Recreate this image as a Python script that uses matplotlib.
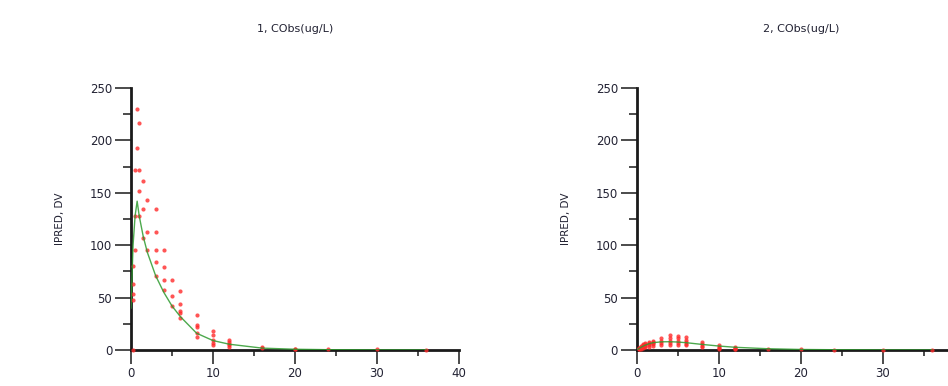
import matplotlib
matplotlib.use("Agg")
import matplotlib.pyplot as plt
from matplotlib.ticker import MultipleLocator, FuncFormatter
import numpy as np

# ---- observed concentrations (DV), grouped by sampling time ----
# panel 1: CObs(ug/L), compartment 1
obs1_time = [0.25, 0.25, 0.25, 0.25, 0.25,
             0.5, 0.5, 0.5,
             0.75, 0.75,
             1, 1, 1, 1,
             1.5, 1.5, 1.5,
             2, 2, 2,
             3, 3, 3, 3, 3,
             4, 4, 4, 4,
             5, 5, 5,
             6, 6, 6, 6, 6,
             8, 8, 8, 8, 8,
             10, 10, 10, 10, 10,
             12, 12, 12, 12, 12,
             16, 16, 20, 20, 24, 30, 36]
obs1_dv = [80, 63, 53, 48, 0,
           172, 128, 95,
           230, 193,
           217, 172, 152, 128,
           161, 135, 107,
           143, 113, 95,
           135, 113, 95, 84, 71,
           95, 79, 67, 57,
           67, 52, 42,
           56, 44, 37, 35, 31,
           33, 24, 22, 16, 12,
           18, 14, 10, 7, 4.5,
           10, 8, 6, 4.5, 2.5,
           2.5, 1.5, 1.2, 0.8, 0.6, 0.5, 0.2]

# panel 2: CObs(ug/L), compartment 2
obs2_time = [0.25, 0.25, 0.25, 0.25,
             0.5, 0.5, 0.5, 0.5,
             0.75, 0.75, 0.75, 0.75, 0.75,
             1, 1, 1, 1, 1,
             1.5, 1.5, 1.5, 1.5, 1.5,
             2, 2, 2, 2, 2,
             3, 3, 3, 3,
             4, 4, 4, 4, 4,
             5, 5, 5, 5, 5,
             6, 6, 6, 6, 6,
             8, 8, 8, 8,
             10, 10, 10, 10,
             12, 12, 12, 12,
             16, 20, 24, 30, 36]
obs2_dv = [0.5, 1, 1.5, 2,
           1, 2, 3, 4,
           2, 3, 4, 5, 6,
           2.5, 4, 5, 6, 7,
           3, 5, 6, 7, 8,
           4, 6, 7, 8, 9,
           11, 9, 7, 5,
           14, 11.5, 9, 6.5, 4.5,
           13, 11, 9, 7, 5,
           12, 10, 8, 6, 5,
           8, 6, 4, 2.5,
           4.5, 3, 1.5, 1,
           2.5, 1.5, 1, 0.5,
           0.8, 0.5, 0.3, 0.2, 0.1]

# ---- individual predictions (IPRED) ----
pred1_time = [0, 0.25, 0.5, 0.75, 1, 1.5, 2, 3, 4, 5, 6, 8, 10, 12, 16, 20, 24, 30, 36]
pred1_val = [40, 100, 128, 142, 128, 108, 93, 71, 55, 42, 32, 16, 9, 5.5, 1.8, 0.7, 0.3, 0.1, 0.04]

pred2_time = [0, 0.5, 1, 1.5, 2, 3, 4, 5, 6, 8, 10, 12, 16, 20, 24, 30, 36]
pred2_val = [0, 2.5, 4.5, 6, 7, 7.8, 7.9, 7.6, 7, 5.3, 3.8, 2.6, 1.2, 0.5, 0.25, 0.08, 0.03]

panel_titles = ["1, CObs(ug/L)", "2, CObs(ug/L)"]

TXT = "#222233"
W, H = 948, 386

fig = plt.figure(figsize=(W / 100, H / 100), dpi=100)
fig.patch.set_facecolor("white")

# axes rectangles in pixels: left edge, bottom (from top), width, height
ax_left_px = [131, 636.7]
ax_w_px, ax_top_px, ax_bot_px = 328, 88, 350

panels = [(obs1_time, obs1_dv, pred1_time, pred1_val),
          (obs2_time, obs2_dv, pred2_time, pred2_val)]

for i, (ot, odv, pt, pv) in enumerate(panels):
    rect = [ax_left_px[i] / W, (H - ax_bot_px) / H,
            ax_w_px / W, (ax_bot_px - ax_top_px) / H]
    ax = fig.add_axes(rect)
    ax.scatter(ot, odv, s=9, color="#ff2a2a", alpha=0.8, linewidths=0,
               zorder=3, clip_on=False)
    ax.plot(pt, pv, color="#2e9a2e", linewidth=1.0, alpha=0.85, zorder=4)

    ax.set_xlim(0, 40)
    ax.set_ylim(0, 250)
    ax.xaxis.set_major_locator(MultipleLocator(10))
    ax.xaxis.set_minor_locator(MultipleLocator(5))
    ax.yaxis.set_major_locator(MultipleLocator(50))
    ax.yaxis.set_minor_locator(MultipleLocator(25))
    if i == 1:
        # second panel runs past the right edge; its last label falls outside
        ax.xaxis.set_major_formatter(FuncFormatter(lambda v, p: "" if v >= 40 else f"{v:g}"))

    for side in ("top", "right"):
        ax.spines[side].set_visible(False)
    for side in ("left", "bottom"):
        ax.spines[side].set_linewidth(2.0)
        ax.spines[side].set_color("#1a1a1a")
        ax.spines[side].set_zorder(2)

    ax.tick_params(axis="y", which="major", direction="out", length=11.5,
                   width=1.1, color="#1a1a1a", labelsize=8.5, labelcolor=TXT, pad=2)
    ax.tick_params(axis="y", which="minor", direction="out", length=5.5,
                   width=1.1, color="#1a1a1a")
    ax.tick_params(axis="x", which="major", direction="out", length=10,
                   width=1.1, color="#1a1a1a", labelsize=8.5, labelcolor=TXT, pad=2)
    ax.tick_params(axis="x", which="minor", direction="out", length=4.5,
                   width=1.1, color="#1a1a1a")

    ax.set_ylabel("IPRED, DV", fontsize=7.5, color=TXT)
    ax.yaxis.set_label_coords(-0.20, 0.5)
    ax.set_title(panel_titles[i], fontsize=8, color=TXT, pad=40)

fig.savefig("out.png", dpi=100)
